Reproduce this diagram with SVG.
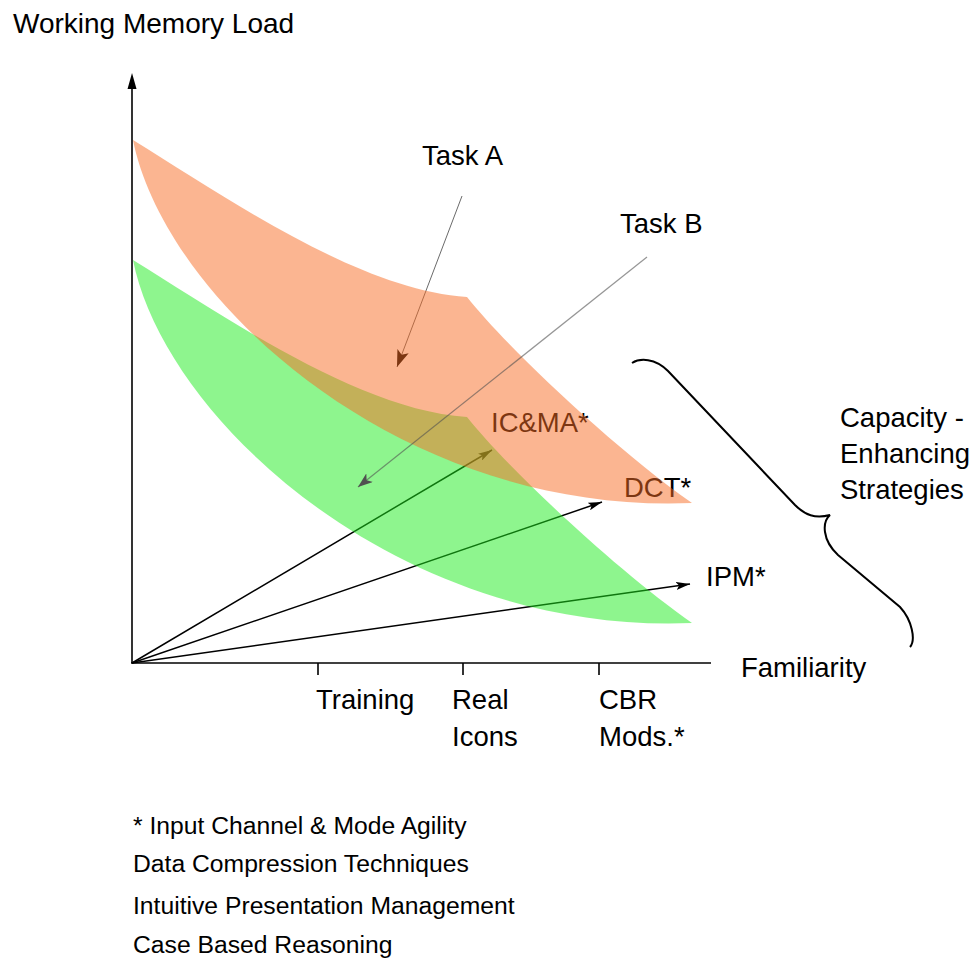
<svg xmlns="http://www.w3.org/2000/svg" width="973" height="959" viewBox="0 0 973 959">
<style>
text{font-family:"Liberation Sans",Arial,sans-serif;fill:#000;}
.lbl{font-size:27.5px;}
.foot{font-size:24.7px;}
.ax{stroke:#000;stroke-width:1.6;fill:none;}
.str{stroke:#000;stroke-width:1.5;fill:none;}
</style>
<defs>
<path id="band" d="M133,140 C230,200 360,290 467,297 C505,345 610,445 692,503 C400,515 165,300 133,140 Z"/>
<marker id="ah" viewBox="0 0 14 8" refX="14" refY="4" markerWidth="14" markerHeight="8" markerUnits="userSpaceOnUse" orient="auto"><path d="M0,0 L14,4 L0,8 L3,4 Z" fill="#000"/></marker>
<marker id="ahA" viewBox="0 0 17 12" refX="17" refY="6" markerWidth="17" markerHeight="12" markerUnits="userSpaceOnUse" orient="auto"><path d="M0,0 L17,6 L0,12 L4,6 Z" fill="#000"/></marker>
<marker id="ahB" viewBox="0 0 15 11" refX="15" refY="5.5" markerWidth="15" markerHeight="11" markerUnits="userSpaceOnUse" orient="auto"><path d="M0,0 L15,5.5 L0,11 L4,5.5 Z" fill="#505050"/></marker>
</defs>

<g id="axes">
<line class="ax" x1="132" y1="663" x2="132" y2="88"/>
<path d="M132,73 L136.5,89 L127.5,89 Z" fill="#000"/>
<line class="ax" x1="131" y1="663" x2="711" y2="663"/>
<line class="ax" x1="318" y1="663" x2="318" y2="675"/>
<line class="ax" x1="463" y1="663" x2="463" y2="675"/>
<line class="ax" x1="599" y1="663" x2="599" y2="675"/>
</g>

<g id="labels">
<text class="lbl" x="13" y="33" style="font-size:28px">Working Memory Load</text>
<text class="lbl" x="422" y="165">Task A</text>
<text class="lbl" x="620" y="233">Task B</text>
<text class="lbl" x="491" y="432">IC&amp;MA*</text>
<text class="lbl" x="624" y="497">DCT*</text>
<text class="lbl" x="706" y="586">IPM*</text>
<text class="lbl" x="741" y="677">Familiarity</text>
<text class="lbl" x="316" y="709">Training</text>
<text class="lbl" x="452" y="709">Real</text>
<text class="lbl" x="452" y="746">Icons</text>
<text class="lbl" x="599" y="709">CBR</text>
<text class="lbl" x="599" y="746">Mods.*</text>
</g>

<g id="connectors">
<line class="str" x1="132" y1="663" x2="492" y2="450" marker-end="url(#ah)"/>
<line class="str" x1="132" y1="663" x2="602" y2="502" marker-end="url(#ah)"/>
<line class="str" x1="132" y1="663" x2="690" y2="584" marker-end="url(#ah)"/>
<line x1="462" y1="196" x2="397" y2="367" stroke="#444" stroke-width="0.8" marker-end="url(#ahA)"/>
</g>

<g id="task-bands">
<use href="#band" transform="translate(0,120)" fill="rgb(29,235,29)" fill-opacity="0.5"/>
<use href="#band" fill="rgb(247,107,35)" fill-opacity="0.5"/>
</g>

<g id="task-b-arrow">
<line x1="647" y1="257" x2="358" y2="487" stroke="#505050" stroke-opacity="0.6" stroke-width="1.2" marker-end="url(#ahB)"/>
</g>

<g id="brace">
<path d="M632,363 C640,358 655,358 668,371 L795,505 C805,515 815,519 830,515 C822,522 822,540 838,555 L900,607 C912,620 916,640 910,647" fill="none" stroke="#000" stroke-width="2"/>
<text class="lbl" x="840" y="427">Capacity -</text>
<text class="lbl" x="840" y="463">Enhancing</text>
<text class="lbl" x="840" y="499">Strategies</text>
</g>

<g id="footnotes">
<text class="foot" x="133" y="834">* Input Channel &amp; Mode Agility</text>
<text class="foot" x="133" y="872">Data Compression Techniques</text>
<text class="foot" x="133" y="914">Intuitive Presentation Management</text>
<text class="foot" x="133" y="953">Case Based Reasoning</text>
</g>
</svg>
